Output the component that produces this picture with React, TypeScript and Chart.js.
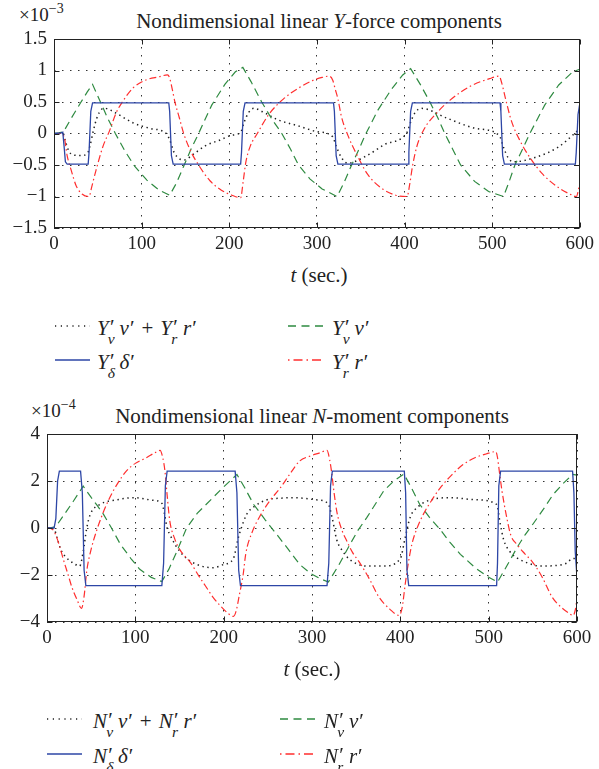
import React, { useEffect, useRef } from 'react';
import { Chart, registerables } from 'chart.js';
Chart.register(...registerables);

type P = [number, number][];

// ---------- Chart 1: Y-force components (x10^-3) ----------
const X_TICKS_MIN = 0;
const X_TICKS_MAX = 600;
const X_STEP = 100;

const Y1_MIN = -1.5;
const Y1_MAX = 1.5;
const Y1_STEP = 0.5;

const Y_SUM: P = [[0,0],[10,0.01],[13,-0.12],[17,-0.28],[22,-0.34],[30,-0.35],[38,-0.32],[41,-0.2],[45,0.05],[49,0.25],[54,0.38],[58,0.4],[70,0.33],[90,0.17],[110,0.08],[128,0],
[132,-0.1],[137,-0.3],[143,-0.4],[148,-0.42],[160,-0.32],[172,-0.2],[190,-0.1],[202,-0.03],[213,0.02],
[217,0.18],[222,0.33],[228,0.4],[240,0.33],[255,0.22],[279,0.12],[300,0.03],[318,-0.05],
[322,-0.2],[328,-0.38],[335,-0.47],[356,-0.36],[378,-0.17],[403,0.02],
[407,0.18],[412,0.33],[419,0.4],[449,0.24],[482,0.08],[508,-0.03],
[513,-0.22],[518,-0.38],[524,-0.45],[549,-0.38],[575,-0.22],[594,0],[600,0.08]];

const Y_DELTA: P = [[0,0],[8,0.01],[10,0.02],[11.5,-0.2],[13,-0.45],[15,-0.485],[39,-0.485],[40,-0.3],[42,0.35],[44,0.485],
[131,0.485],[132,0.35],[134,-0.35],[136,-0.485],[213,-0.485],[214,-0.3],[216,0.35],[218,0.485],
[319,0.485],[320,0.35],[322,-0.35],[324,-0.485],[404,-0.485],[405,-0.3],[407,0.35],[409,0.485],
[509,0.485],[510,0.35],[512,-0.35],[514,-0.485],[595,-0.485],[596,-0.3],[598,0.3],[600,0.47]];

const Y_V: P = [[0,0],[6,0.01],[11,0.03],[20,0.25],[30,0.48],[38,0.66],[44,0.78],[53,0.5],[61,0.25],[70,0],[81,-0.28],[92,-0.52],[106,-0.74],[120,-0.9],[132,-0.98],
[140,-0.78],[148,-0.52],[156,-0.26],[165,0],[180,0.45],[195,0.78],[207,0.98],[215.5,1.05],
[225,0.82],[237,0.5],[249,0.22],[260,0],[270,-0.25],[279,-0.5],[292,-0.72],[306,-0.88],[323,-1.0],
[331,-0.78],[338,-0.55],[347,-0.28],[356,0],[370,0.38],[385,0.7],[398,0.93],[407,1.03],
[418,0.78],[429,0.5],[438,0.25],[446,0],[455,-0.25],[464,-0.5],[480,-0.76],[496,-0.92],[513,-1.0],
[519,-0.78],[526,-0.5],[535,-0.24],[543,0],[560,0.45],[576,0.77],[592,0.98],[600,1.02]];

const Y_R: P = [[0,0],[9,0],[12,-0.08],[15,-0.35],[20,-0.6],[25,-0.82],[32,-0.96],[40,-1.0],[43,-0.85],[48,-0.58],[56,-0.2],[63,0.03],[71,0.33],[78,0.5],[90,0.72],[105,0.85],[120,0.9],[129.5,0.93],
[132,0.88],[135,0.7],[138,0.5],[143,0.25],[148,0],[156,-0.28],[165,-0.5],[178,-0.75],[191,-0.9],[203,-0.98],[213,-1.02],
[216,-0.75],[219,-0.45],[224,-0.2],[232,0],[245,0.3],[262,0.55],[279,0.72],[295,0.84],[306,0.89],[314,0.91],
[318,0.85],[321,0.7],[324,0.55],[328,0.27],[336,-0.05],[345,-0.32],[358,-0.65],[373,-0.86],[390,-0.98],[403,-1.0],
[406,-0.8],[409,-0.53],[414,-0.21],[422,0.06],[437,0.33],[452,0.53],[475,0.75],[497,0.87],[508,0.91],
[511,0.8],[515,0.57],[522,0.2],[532,-0.12],[543,-0.38],[558,-0.65],[577,-0.87],[590,-0.97],[596,-1.0],[600,-0.8]];

// ---------- Chart 2: N-moment components (x10^-4) ----------
const Y2_MIN = -4;
const Y2_MAX = 4;
const Y2_STEP = 2;

const N_SUM: P = [[0,0],[8,-0.05],[12,-0.5],[16,-0.95],[22,-1.26],[30,-1.5],[37,-1.62],[41,-1.0],[45,0],[49,0.58],[60,1.0],[79,1.2],[98,1.29],[120,1.18],[130,1.05],
[133,0.6],[136,0],[139,-0.27],[145,-0.7],[150,-0.98],[160,-1.35],[173,-1.6],[188,-1.69],[200,-1.55],[211,-1.3],
[216,-0.5],[220,0],[226,0.58],[236,0.95],[249,1.2],[265,1.27],[280,1.29],[305,1.2],[318,1.05],
[323,0.4],[328,-0.5],[335,-1.0],[343,-1.35],[362,-1.62],[381,-1.62],[400,-1.3],
[405,-0.5],[411,0.44],[420,0.9],[430,1.14],[456,1.29],[486,1.2],[509,1.0],
[513,0.2],[517,-0.5],[524,-1.0],[532,-1.27],[545,-1.5],[558,-1.62],[575,-1.6],[588,-1.5],[595,-1.3],[600,-1.3]];

const N_DELTA: P = [[0,0],[8,0],[10,0.4],[12,2.0],[14,2.42],[38,2.42],[40,1.5],[42,-1.8],[44,-2.45],
[130,-2.45],[132,-1.5],[134,1.8],[136,2.42],[213,2.42],[215,1.5],[217,-1.8],[219,-2.45],
[317,-2.45],[319,-1.5],[321,1.8],[323,2.42],[404.5,2.42],[406,1.5],[407.5,-1.8],[409.5,-2.45],
[509,-2.45],[510,-1.5],[511.5,1.8],[513.5,2.42],[595,2.42],[596.5,1.5],[598,-1.0],[600,-2.1]];

const N_V: P = [[0,0],[5,0.02],[10,0.06],[20,0.6],[30,1.15],[41,1.78],[50,1.3],[57,0.95],[64,0.58],[73,0],[83,-0.69],[95,-1.3],[105,-1.76],[118,-2.1],[130,-2.28],
[138,-1.75],[147,-1.0],[158,0],[170,0.62],[188,1.3],[200,1.75],[210,2.1],[215,2.28],
[224,1.7],[234,1.0],[247,0.35],[260,-0.27],[273,-0.9],[286,-1.55],[299,-1.95],[309,-2.15],[318.5,-2.3],
[330,-1.6],[343,-0.7],[352,-0.1],[362,0.44],[381,1.57],[392,1.98],[404,2.3],
[412,1.75],[422,1.0],[433,0.45],[445,-0.06],[456,-0.6],[468,-1.12],[485,-1.7],[498,-2.05],[510,-2.3],
[520,-1.65],[532,-0.84],[541,-0.3],[550,0.16],[562,0.8],[573,1.43],[585,1.92],[595,2.28],[600,2.25]];

const N_R: P = [[0,0],[6,-0.05],[10,-0.3],[14,-0.75],[19,-1.4],[24,-2.0],[28,-2.5],[34,-3.05],[39,-3.42],[42,-2.9],[45,-1.83],[50,-0.9],[56,-0.13],[63,0.6],[71,1.29],[80,1.9],[90,2.43],[100,2.75],[113,3.0],[122,3.2],[128,3.3],
[131,3.0],[133.5,2.43],[136,1.4],[139,0.3],[144,-0.4],[150,-0.9],[156,-1.2],[162,-1.45],[172,-2.05],[180,-2.5],[188,-2.95],[196,-3.3],[204,-3.6],[211,-3.76],
[214,-3.55],[218,-2.8],[222,-2.0],[225,-1.1],[232,-0.2],[241,0.5],[252,1.15],[264,1.7],[275,2.3],[286,2.85],[297,3.05],[309,3.2],[317,3.3],
[320,2.9],[322,2.43],[325,1.5],[328,0.72],[333,0],[340,-0.6],[346,-1.05],[353,-1.42],[364,-2.1],[376,-2.95],[388,-3.45],[398.5,-3.72],
[402,-3.4],[405.5,-2.4],[409,-1.5],[413,-0.7],[419,0],[426,0.58],[435,1.15],[445,1.7],[458,2.25],[471,2.7],[485,3.0],[497,3.15],[508,3.25],
[510,3.0],[512,2.43],[515,1.6],[520.5,0.44],[525,-0.3],[532,-0.7],[541,-1.1],[549,-1.42],[560,-2.05],[572,-2.95],[583,-3.4],[590,-3.6],[595.5,-3.72],[598,-3.5],[600,-3.0]];

// ---------- styling ----------
const FONT = "'Liberation Serif', 'Times New Roman', serif";
const C_BLACK = '#1e1e1e';
const C_BLUE = '#2d46a6';
const C_GREEN = '#2e8a40';
const C_RED = '#ff2e2e';
const DASH_DOT = [1.4, 3.6];
const DASH_DASH = [8, 5];
const DASH_DASHDOT = [7, 3, 1.5, 3];

const toXY = (p: P) => p.map(([x, y]) => ({ x, y }));
const fmt = (v: number) => {
  const r = Math.round(v * 100) / 100;
  return String(r).replace('-', '\u2212');
};

const framePlugin = {
  id: 'frame',
  afterDatasetsDraw(chart: any) {
    const { ctx, chartArea: a, scales } = chart;
    ctx.save();
    ctx.strokeStyle = '#222';
    ctx.lineWidth = 1;
    const L = Math.round(a.left) + 0.5;
    const R = Math.round(a.right) - 0.5;
    const T = Math.round(a.top) + 0.5;
    const B = Math.round(a.bottom) - 0.5;
    ctx.strokeRect(L, T, R - L, B - T);
    const len = 5;
    ctx.beginPath();
    scales.x.ticks.forEach((t: any) => {
      const x = Math.round(scales.x.getPixelForValue(t.value)) + 0.5;
      ctx.moveTo(x, B); ctx.lineTo(x, B - len);
      ctx.moveTo(x, T); ctx.lineTo(x, T + len);
    });
    scales.y.ticks.forEach((t: any) => {
      const y = Math.round(scales.y.getPixelForValue(t.value)) + 0.5;
      ctx.moveTo(L, y); ctx.lineTo(L + len, y);
      ctx.moveTo(R, y); ctx.lineTo(R - len, y);
    });
    ctx.stroke();
    ctx.restore();
  },
};

function makeConfig(
  sets: { sum: P; delta: P; v: P; r: P },
  yMin: number, yMax: number, yStep: number,
  padTop: number, padRight: number, yW: number, xH: number
): any {
  const tickFont = { family: FONT, size: 19 };
  return {
    type: 'line',
    data: {
      datasets: [
        { data: toXY(sets.delta), borderColor: C_BLUE, borderWidth: 1.3, tension: 0, pointRadius: 0 },
        { data: toXY(sets.r), borderColor: C_RED, borderWidth: 1.2, borderDash: DASH_DASHDOT, cubicInterpolationMode: 'monotone', pointRadius: 0 },
        { data: toXY(sets.v), borderColor: C_GREEN, borderWidth: 1.2, borderDash: DASH_DASH, tension: 0, pointRadius: 0 },
        { data: toXY(sets.sum), borderColor: C_BLACK, borderWidth: 1.5, borderDash: DASH_DOT, cubicInterpolationMode: 'monotone', pointRadius: 0 },
      ],
    },
    options: {
      animation: false,
      responsive: false,
      maintainAspectRatio: false,
      events: [],
      layout: { padding: { left: 0, right: padRight, top: padTop, bottom: 0 } },
      plugins: { legend: { display: false }, tooltip: { enabled: false }, title: { display: false } },
      elements: { point: { radius: 0 } },
      scales: {
        x: {
          type: 'linear', min: X_TICKS_MIN, max: X_TICKS_MAX,
          ticks: { stepSize: X_STEP, font: tickFont, color: '#222', padding: 5, maxRotation: 0, callback: (v: number) => fmt(v) },
          grid: { color: '#333', lineWidth: 1, drawTicks: false },
          border: { display: false, dash: [1.5, 6.5] },
          afterFit: (s: any) => { s.height = xH; },
        },
        y: {
          type: 'linear', min: yMin, max: yMax,
          ticks: { stepSize: yStep, font: tickFont, color: '#222', padding: 7, callback: (v: number) => fmt(v) },
          grid: { color: '#333', lineWidth: 1, drawTicks: false },
          border: { display: false, dash: [1.5, 6.5] },
          afterFit: (s: any) => { s.width = yW; },
        },
      },
    },
    plugins: [framePlugin],
  };
}

function ChartCanvas({ make, left, top, w, h }: { make: () => any; left: number; top: number; w: number; h: number }) {
  const ref = useRef<HTMLCanvasElement>(null);
  useEffect(() => {
    const c = new Chart(ref.current as HTMLCanvasElement, make());
    return () => c.destroy();
  }, []);
  return <canvas ref={ref} width={w} height={h} style={{ position: 'absolute', left, top, width: w, height: h }} />;
}

// ---------- text helpers ----------
const Txt = ({ x, base, size, center, children }: any) => (
  <div style={{
    position: 'absolute', left: x, top: base - 0.8375 * size, fontSize: size, lineHeight: 1,
    whiteSpace: 'nowrap', fontFamily: FONT, color: '#222',
    transform: center ? 'translateX(-50%)' : undefined,
  }}>{children}</div>
);

const LF = 21;
const PS = ({ b, s }: { b: string; s: string }) => (
  <>
    <i>{b}</i>
    <span style={{ position: 'relative', display: 'inline-block', width: 0.52 * LF, height: LF }}>
      <span style={{ position: 'absolute', left: 0.06 * LF, top: 0.12 * LF, fontSize: LF, lineHeight: 1, fontStyle: 'normal' }}>{'\u2032'}</span>
      <i style={{ position: 'absolute', left: -0.04 * LF, top: 0.78 * LF, fontSize: 0.74 * LF, lineHeight: 1 }}>{s}</i>
    </span>
  </>
);
const Pr = () => <span style={{ marginLeft: 1 }}>{'\u2032'}</span>;
const Plus = () => <span style={{ margin: '0 7px' }}>+</span>;

const Sample = ({ x, y, color, dash }: { x: number; y: number; color: string; dash?: string }) => (
  <svg style={{ position: 'absolute', left: x, top: y - 3 }} width={36} height={6}>
    <line x1={0} y1={3} x2={35} y2={3} stroke={color} strokeWidth={1.3} strokeDasharray={dash} />
  </svg>
);

const LegendBlock = ({ L, row1, row2, x1, x2, tx1, tx2 }: any) => (
  <>
    <Sample x={x1} y={row1} color={C_BLACK} dash="1.2 4.6" />
    <Txt x={tx1} base={row1 + 6} size={LF}>
      <PS b={L} s="v" /><i>v</i><Pr /><Plus /><PS b={L} s="r" /><i>r</i><Pr />
    </Txt>
    <Sample x={x2} y={row1} color={C_GREEN} dash="8 5.5" />
    <Txt x={tx2} base={row1 + 6} size={LF}>
      <PS b={L} s="v" /><i>v</i><Pr />
    </Txt>
    <Sample x={x1} y={row2} color={C_BLUE} />
    <Txt x={tx1} base={row2 + 6} size={LF}>
      <PS b={L} s={'\u03b4'} /><i>{'\u03b4'}</i><Pr />
    </Txt>
    <Sample x={x2} y={row2} color={C_RED} dash="1.5 4 9 4" />
    <Txt x={tx2} base={row2 + 6} size={LF}>
      <PS b={L} s="r" /><i>r</i><Pr />
    </Txt>
  </>
);

export default function App() {
  return (
    <div style={{ position: 'absolute', left: 0, top: 0, width: 599, height: 769, background: '#fff', overflow: 'hidden', fontFamily: FONT }}>
      {/* Chart 1 */}
      <Txt x={19} base={21} size={19}>
        {'\u00d7'}10<span style={{ position: 'relative', top: -8, fontSize: 14 }}>{'\u2212'}3</span>
      </Txt>
      <Txt x={319} base={29} size={21} center>
        Nondimensional linear <i>Y</i>-force components
      </Txt>
      <ChartCanvas
        make={() => makeConfig({ sum: Y_SUM, delta: Y_DELTA, v: Y_V, r: Y_R }, Y1_MIN, Y1_MAX, Y1_STEP, 39, 15, 54, 32)}
        left={0} top={0} w={599} h={260}
      />
      <Txt x={319} base={283} size={21} center><i>t</i> (sec.)</Txt>
      <LegendBlock L="Y" row1={326} row2={360} x1={55} x2={288} tx1={97} tx2={332} />

      {/* Chart 2 */}
      <Txt x={31} base={417} size={19}>
        {'\u00d7'}10<span style={{ position: 'relative', top: -8, fontSize: 14 }}>{'\u2212'}4</span>
      </Txt>
      <Txt x={312} base={424} size={21} center>
        Nondimensional linear <i>N</i>-moment components
      </Txt>
      <ChartCanvas
        make={() => makeConfig({ sum: N_SUM, delta: N_DELTA, v: N_V, r: N_R }, Y2_MIN, Y2_MAX, Y2_STEP, 44, 22, 47, 38)}
        left={0} top={390} w={599} h={270}
      />
      <Txt x={312} base={677} size={21} center><i>t</i> (sec.)</Txt>
      <LegendBlock L="N" row1={719} row2={754} x1={47} x2={280} tx1={93} tx2={324} />
    </div>
  );
}
